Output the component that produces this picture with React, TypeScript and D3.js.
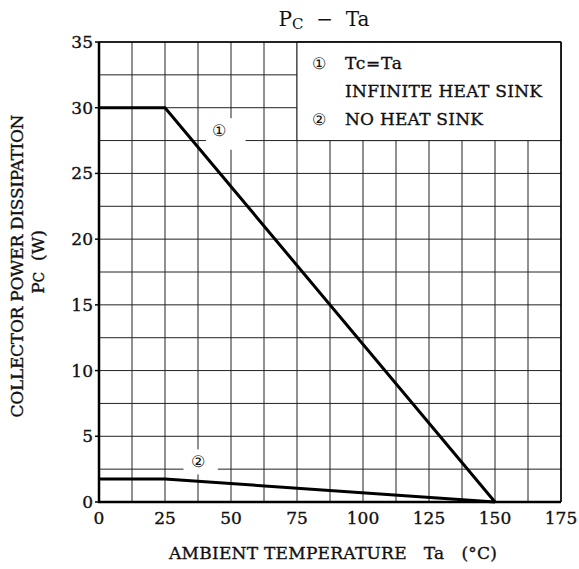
import React from "react";
import * as d3 from "d3";

const xTicks = [0, 25, 50, 75, 100, 125, 150, 175];
const yTicks = [0, 5, 10, 15, 20, 25, 30, 35];
const xGrid = [0, 12.5, 25, 37.5, 50, 62.5, 75, 87.5, 100, 112.5, 125, 137.5, 150, 162.5, 175];
const yGrid = [0, 2.5, 5, 7.5, 10, 12.5, 15, 17.5, 20, 22.5, 25, 27.5, 30, 32.5, 35];
const curve1Ta = [0, 25, 150];
const curve1Pc = [30, 30, 0];
const curve2Ta = [0, 25, 150];
const curve2Pc = [1.75, 1.75, 0];
const legendMarks = ["①", "②"];
const legendLines = ["Tc=Ta", "INFINITE HEAT SINK", "NO HEAT SINK"];

const W = 579, H = 569;
const L = 99, R = 561, T = 42, B = 502;
const FONT = "'DejaVu Serif', serif";

export default function App() {
  const x = d3.scaleLinear().domain([0, 175]).range([L, R]);
  const y = d3.scaleLinear().domain([0, 35]).range([B, T]);
  const line = d3.line<[number, number]>().x(d => x(d[0])).y(d => y(d[1]));
  const c1 = curve1Ta.map((t, i) => [t, curve1Pc[i]] as [number, number]);
  const c2 = curve2Ta.map((t, i) => [t, curve2Pc[i]] as [number, number]);
  const txt = { fill: "#111", stroke: "#111", strokeWidth: 0.35 };
  return (
    <svg width={W} height={H} style={{ position: "absolute", left: 0, top: 0, background: "#fff" }} fontFamily={FONT}>
      <rect x={0} y={0} width={W} height={H} fill="#fff" />
      {xGrid.map(v => (
        <line key={"gx" + v} x1={x(v)} x2={x(v)} y1={T} y2={B} stroke="#222" strokeWidth={1} />
      ))}
      {yGrid.map(v => (
        <line key={"gy" + v} x1={L} x2={R} y1={y(v)} y2={y(v)} stroke="#222" strokeWidth={1} />
      ))}
      {/* legend box */}
      <rect x={x(75)} y={T} width={x(175) - x(75)} height={y(27.5) - T} fill="#fff" stroke="#222" strokeWidth={1} />
      <text x={319} y={69} fontSize={16} textAnchor="middle" fill="#111">{legendMarks[0]}</text>
      <text x={345} y={69} fontSize={17} textLength={57} {...txt}>{legendLines[0]}</text>
      <text x={345} y={97} fontSize={17} textLength={197} {...txt}>{legendLines[1]}</text>
      <text x={319} y={125} fontSize={16} textAnchor="middle" fill="#111">{legendMarks[1]}</text>
      <text x={345} y={125} fontSize={17} textLength={138} {...txt}>{legendLines[2]}</text>
      {/* label backgrounds */}
      <rect x={x(40.5)} y={y(29.2)} width={x(55.5) - x(40.5)} height={y(26.8) - y(29.2)} fill="#fff" />
      <rect x={x(32)} y={y(4.0)} width={x(45) - x(32)} height={y(2.1) - y(4.0)} fill="#fff" />
      <text x={x(45.5)} y={y(28.3) + 6} fontSize={16} textAnchor="middle" fill="#111">{legendMarks[0]}</text>
      <text x={x(37.5)} y={y(3.1) + 6} fontSize={16} textAnchor="middle" fill="#111">{legendMarks[1]}</text>
      {/* curves */}
      <path d={line(c1) || ""} fill="none" stroke="#000" strokeWidth={3} />
      <path d={line(c2) || ""} fill="none" stroke="#000" strokeWidth={3} />
      {/* frame */}
      <line x1={L} x2={L} y1={T} y2={B + 1} stroke="#000" strokeWidth={2.5} />
      <line x1={L - 1} x2={R} y1={B} y2={B} stroke="#000" strokeWidth={2.5} />
      <line x1={L} x2={R} y1={T} y2={T} stroke="#000" strokeWidth={1.5} />
      <line x1={R} x2={R} y1={T} y2={B} stroke="#000" strokeWidth={1.5} />
      {yTicks.map(v => (
        <g key={"yt" + v}>
          <line x1={L - 4} x2={L} y1={y(v)} y2={y(v)} stroke="#000" strokeWidth={1.5} />
          <text x={L - 6} y={y(v) + 6} fontSize={17} textAnchor="end" {...txt}>{v}</text>
        </g>
      ))}
      {xTicks.map(v => (
        <text key={"xt" + v} x={x(v)} y={B + 22} fontSize={17} textAnchor="middle" {...txt}>{v}</text>
      ))}
      {/* title */}
      <text x={324} y={26} fontSize={20} textAnchor="middle" fill="#111" xmlSpace="preserve">
        P<tspan fontSize={15} dy={3}>C</tspan><tspan dy={-3}>  −  Ta</tspan>
      </text>
      {/* axis labels */}
      <text x={333} y={559} fontSize={17} textAnchor="middle" textLength={328} {...txt} xmlSpace="preserve">AMBIENT TEMPERATURE   Ta   (°C)</text>
      <text transform={`translate(23,${266}) rotate(-90)`} fontSize={17} textAnchor="middle" textLength={303} {...txt}>COLLECTOR POWER DISSIPATION</text>
      <text transform={`translate(44,${262}) rotate(-90)`} fontSize={17} textAnchor="middle" {...txt} xmlSpace="preserve">P<tspan fontSize={14}>C</tspan>  (W)</text>
    </svg>
  );
}
